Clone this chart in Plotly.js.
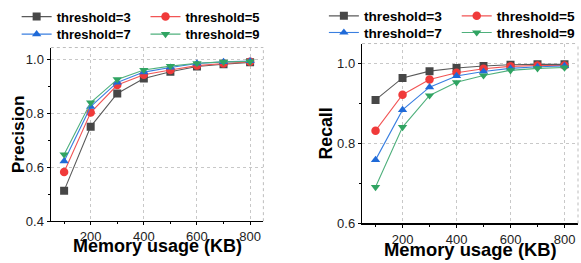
<!DOCTYPE html>
<html>
<head>
<meta charset="utf-8">
<script src="https://cdn.plot.ly/plotly-3.0.1.min.js"></script>
<style>html,body{margin:0;padding:0;background:#fff;}#chart{width:581px;height:263px;}</style>
</head>
<body>
<div id="chart"></div>
<script>
// ---- data ----
var memory = [100, 200, 300, 400, 500, 600, 700, 800];
var seriesNames = ["threshold=3", "threshold=5", "threshold=7", "threshold=9"];
var precision3 = [0.513, 0.750, 0.873, 0.928, 0.953, 0.973, 0.981, 0.988];
var precision5 = [0.582, 0.802, 0.904, 0.942, 0.960, 0.976, 0.984, 0.990];
var precision7 = [0.622, 0.824, 0.914, 0.952, 0.969, 0.984, 0.990, 0.993];
var precision9 = [0.647, 0.839, 0.925, 0.960, 0.974, 0.985, 0.990, 0.991];
var recall3 = [0.909, 0.964, 0.981, 0.989, 0.994, 0.997, 0.998, 0.998];
var recall5 = [0.832, 0.922, 0.960, 0.977, 0.987, 0.993, 0.995, 0.995];
var recall7 = [0.759, 0.884, 0.941, 0.969, 0.980, 0.988, 0.992, 0.994];
var recall9 = [0.691, 0.841, 0.920, 0.953, 0.970, 0.983, 0.988, 0.990];
var xTitle = "Memory usage (KB)";
var yTitleLeft = "Precision";
var yTitleRight = "Recall";

// ---- styles ----
var lineColors = ["#5a5a5a", "#f25555", "#3a7fe0", "#4fb07c"];
var markerColors = ["#474747", "#f03a3a", "#1f6ad8", "#30a462"];
var symbols = ["square", "circle", "triangle-up", "triangle-down"];
var sizes = [8, 8.5, 8.2, 8.2];
var FONT = "Liberation Sans, Arial, sans-serif";
var W = 581, H = 263;

var precisionSets = [precision3, precision5, precision7, precision9];
var recallSets = [recall3, recall5, recall7, recall9];

// legend item positions (px): line start x, row center y
var legendPos = [
  [[21.7, 15.7], [151, 15.7], [21.7, 33.3], [151, 33.3]],
  [[330, 15], [463.3, 15], [330, 31.7], [463.3, 31.7]]
];
var legendFontSize = [13, 13.7];

var traces = [];
var layout = {
  width: W, height: H,
  margin: {l: 0, r: 0, t: 0, b: 0},
  paper_bgcolor: "#fff", plot_bgcolor: "#fff",
  showlegend: true,
  annotations: [],
  shapes: []
};

var legendN = 0;
function addTraces(sets, xa, ya, panel) {
  for (var i = 0; i < sets.length; i++) {
    legendN++;
    var lid = legendN === 1 ? "legend" : "legend" + legendN;
    traces.push({
      type: "scatter", mode: "lines+markers",
      x: memory, y: sets[i], xaxis: xa, yaxis: ya,
      name: seriesNames[i], legend: lid,
      line: {color: lineColors[i], width: 1.1},
      marker: {symbol: symbols[i], size: sizes[i], color: markerColors[i], line: {width: 0}}
    });
    var p = legendPos[panel][i];
    layout[lid] = {
      orientation: "v", xanchor: "left", yanchor: "middle",
      x: (p[0] - 5) / W, y: 1 - p[1] / H,
      bgcolor: "rgba(0,0,0,0)", borderwidth: 0,
      font: {family: FONT, size: legendFontSize[panel], color: "#000", weight: "bold"},
      itemwidth: 30
    };
  }
}
addTraces(precisionSets, "x", "y", 0);
addTraces(recallSets, "x2", "y2", 1);

function xAxis(domain, anchor, standoff) {
  return {
    domain: domain, anchor: anchor, range: [50, 850],
    tick0: 0, dtick: 200, ticks: "outside", ticklen: 3, tickcolor: "#000",
    minor: {dtick: 100, ticks: "outside", ticklen: 2, tickcolor: "#000", showgrid: false},
    showline: true, linecolor: "#000", linewidth: 1.3,
    showgrid: true, gridcolor: "#c8c8c8", griddash: "dot", gridwidth: 1,
    zeroline: false, ticklabelstandoff: standoff,
    tickfont: {family: FONT, size: 13, color: "#222"}
  };
}
function yAxis(domain, anchor, range) {
  return {
    domain: domain, anchor: anchor, range: range,
    tick0: 0, dtick: 0.2, tickformat: ".1f", ticks: "outside", ticklen: 3, tickcolor: "#000",
    minor: {dtick: 0.1, ticks: "outside", ticklen: 2, tickcolor: "#000", showgrid: false},
    showline: true, linecolor: "#000", linewidth: 1.3,
    showgrid: true, gridcolor: "#c8c8c8", griddash: "dot", gridwidth: 1,
    zeroline: false,
    tickfont: {family: FONT, size: 13, color: "#222"}
  };
}
layout.xaxis = xAxis([51 / W, 264.3 / W], "y", 0);
layout.yaxis = yAxis([1 - 221 / H, 1 - 46.7 / H], "x", [0.4, 1.043]);
layout.xaxis2 = xAxis([363.3 / W, 580 / W], "y2", 1);
layout.yaxis2 = yAxis([1 - 223.3 / H, 1 - 42.7 / H], "x2", [0.6, 1.05]);

function border(xr, yr) {
  var st = {color: "#bdbdbd", width: 1, dash: "dot"};
  return [
    {type: "line", xref: xr + " domain", yref: yr + " domain", x0: 0, x1: 1, y0: 1, y1: 1, line: st},
    {type: "line", xref: xr + " domain", yref: yr + " domain", x0: 1, x1: 1, y0: 0, y1: 1, line: st}
  ];
}
layout.shapes = border("x", "y").concat(border("x2", "y2"));

function title(text, px, py, angle, size) {
  return {
    text: text, xref: "paper", yref: "paper", x: px / W, y: 1 - py / H,
    xanchor: "center", yanchor: "middle", showarrow: false, textangle: angle,
    font: {family: FONT, size: size, color: "#000", weight: "bold"}
  };
}
layout.annotations = [
  title(yTitleLeft, 18.3, 133.5, -90, 17.3),
  title(xTitle, 157.6, 245.6, 0, 18),
  title(yTitleRight, 327.3, 132.8, -90, 17.7),
  title(xTitle, 472, 249, 0, 18.4)
];

Plotly.newPlot("chart", traces, layout, {staticPlot: true, displayModeBar: false});
</script>
</body>
</html>
